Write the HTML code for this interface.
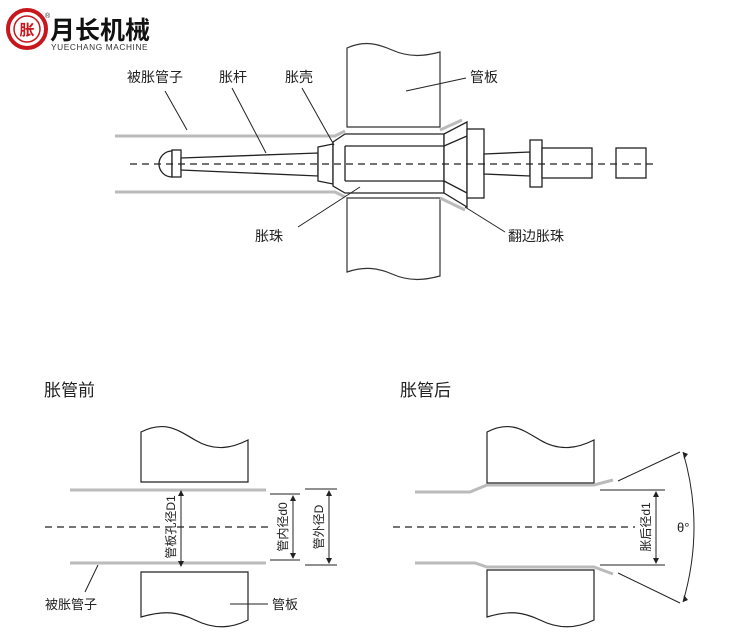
<!DOCTYPE html>
<html><head><meta charset="utf-8"><style>
html,body{margin:0;padding:0;background:#fff;}
svg{display:block;}
text{font-family:"Liberation Sans","Noto Sans CJK SC",sans-serif;fill:#222;}
</style></head><body>
<svg width="750" height="636" viewBox="0 0 750 636" xmlns="http://www.w3.org/2000/svg">
<!-- logo -->
<circle cx="27" cy="29" r="19" fill="none" stroke="#c8161d" stroke-width="4"/>
<circle cx="27" cy="29" r="13" fill="none" stroke="#c8161d" stroke-width="1.5"/>
<text x="27" y="35" font-size="15" text-anchor="middle" style="fill:#c8161d;font-weight:bold">胀</text>
<text x="50" y="39" font-size="25" style="font-weight:bold;fill:#111">月长机械</text>
<text x="45" y="18" font-size="7">®</text>
<text x="51" y="50" font-size="8.3" letter-spacing="0.6" style="fill:#333">YUECHANG MACHINE</text>

<g stroke="#333" stroke-width="1.2" fill="#fff">
<!-- top plate -->
<path d="M347 127 V48 C365 40 378 44 392 50 C410 58 425 56 440 52 V127 Z"/>
<path d="M347 198 V272 C365 266 378 268 392 274 C410 282 425 280 440 276 V198 Z"/>
</g>
<!-- tube walls -->
<g stroke="#bbb" stroke-width="3" fill="none">
<path d="M115 136 H335 L345 131"/>
<path d="M115 192 H335 L345 197"/>
<path d="M440 130 L462 120"/>
<path d="M440 198 L465 210"/>
</g>
<g stroke="#222" stroke-width="1.3" fill="#fff">
<!-- head -->
<path d="M172 151 A13 13 0 0 0 172 177 Z"/>
<rect x="172" y="150" width="9" height="27"/>
<path d="M181 158 L318 153 V176 L181 170 Z"/>
<!-- collar -->
<path d="M318 147 L333 144 V184 L318 181 Z"/>
<!-- shell -->
<path d="M333 142 L345 134 H444 V193 H345 L333 186 Z"/>
<line x1="345" y1="146" x2="444" y2="146"/>
<line x1="345" y1="181" x2="444" y2="181"/>
<line x1="345" y1="146" x2="345" y2="181"/>
<!-- flare -->
<path d="M444 134 L467 122 V207 L444 193 Z"/>
<path d="M444 146 L467 136 M444 181 L467 193"/>
<rect x="467" y="129" width="17" height="69"/>
<path d="M484 154 L530 152 V176 L484 174 Z"/>
<rect x="530" y="140" width="12" height="47"/>
<rect x="542" y="148" width="50" height="30"/>
<rect x="616" y="148" width="30" height="30"/>
</g>
<line x1="130" y1="164" x2="655" y2="164" stroke="#222" stroke-width="1.2" stroke-dasharray="7,5"/>
<!-- leaders -->
<g stroke="#222" stroke-width="1" fill="none">
<path d="M165 91 L187 130"/>
<path d="M232 88 L266 153"/>
<path d="M302 88 L334 145"/>
<path d="M406 91 L466 78"/>
<path d="M298 227 L360 187"/>
<path d="M465 207 L505 232"/>
</g>
<g font-size="14">
<text x="127" y="82">被胀管子</text>
<text x="219" y="82">胀杆</text>
<text x="285" y="82">胀壳</text>
<text x="470" y="82">管板</text>
<text x="255" y="241">胀珠</text>
<text x="508" y="241">翻边胀珠</text>
</g>

<!-- bottom titles -->
<text x="44" y="396" font-size="17">胀管前</text>
<text x="400" y="396" font-size="17">胀管后</text>

<!-- bottom-left -->
<g stroke="#222" stroke-width="1.2" fill="#fff">
<path d="M141 482 V432 C165 420 178 430 195 440 C215 452 232 448 248 440 V482 Z"/>
<path d="M141 572 V617 C165 610 178 612 195 620 C215 630 232 628 248 620 V572 Z"/>
<path d="M487 483 V432 C510 420 523 430 540 440 C560 452 578 448 594 440 V483 Z"/>
<path d="M487 570 V617 C510 610 523 612 540 620 C560 630 578 628 594 620 V570 Z"/>
</g>
<g stroke="#bbb" stroke-width="3" fill="none">
<path d="M70 490 H266"/>
<path d="M70 563 H266"/>
<path d="M415 492 H470 L487 485 H594 L613 480"/>
<path d="M415 563 H475 L487 567 H594 L613 574"/>
</g>
<g stroke="#222" stroke-width="1.2" fill="none">
<line x1="45" y1="527" x2="272" y2="527" stroke-dasharray="7,5"/>
<line x1="393" y1="527" x2="635" y2="527" stroke-dasharray="7,5"/>
</g>
<g stroke="#222" stroke-width="1" fill="none">
<line x1="181" y1="492" x2="181" y2="565"/>
<path d="M270 494 H300 M270 560 H300 M293 497 V557"/>
<path d="M305 489 H337 M305 565 H337 M329 492 V562"/>
<path d="M98 565 L85 592"/>
<path d="M230 604 L268 604"/>
<path d="M600 490 H665 M600 565 H665 M656 493 V562"/>
<path d="M618 481 L680 452 M618 573 L680 603"/>
<path d="M683 452 Q705 527 683 602"/>
</g>
<g fill="#222">
<path d="M181 490 l-3 6 h6 Z M181 567 l-3 -6 h6 Z"/>
<path d="M293 495 l-3 6 h6 Z M293 559 l-3 -6 h6 Z"/>
<path d="M329 490 l-3 6 h6 Z M329 564 l-3 -6 h6 Z"/>
<path d="M656 491 l-3 6 h6 Z M656 564 l-3 -6 h6 Z"/>
<path d="M683 452 l1 7 l4 -5 Z M683 602 l1 -7 l4 5 Z"/>
</g>
<g font-size="12">
<text transform="translate(175 527) rotate(-90)" text-anchor="middle">管板孔径D1</text>
<text transform="translate(287 527) rotate(-90)" text-anchor="middle">管内径d0</text>
<text transform="translate(323 527) rotate(-90)" text-anchor="middle">管外径D</text>
<text transform="translate(650 527) rotate(-90)" text-anchor="middle">胀后径d1</text>
</g>
<text x="45" y="609" font-size="13">被胀管子</text>
<text x="272" y="609" font-size="13">管板</text>
<text x="677" y="532" font-size="13">θ°</text>
</svg>
</body></html>
